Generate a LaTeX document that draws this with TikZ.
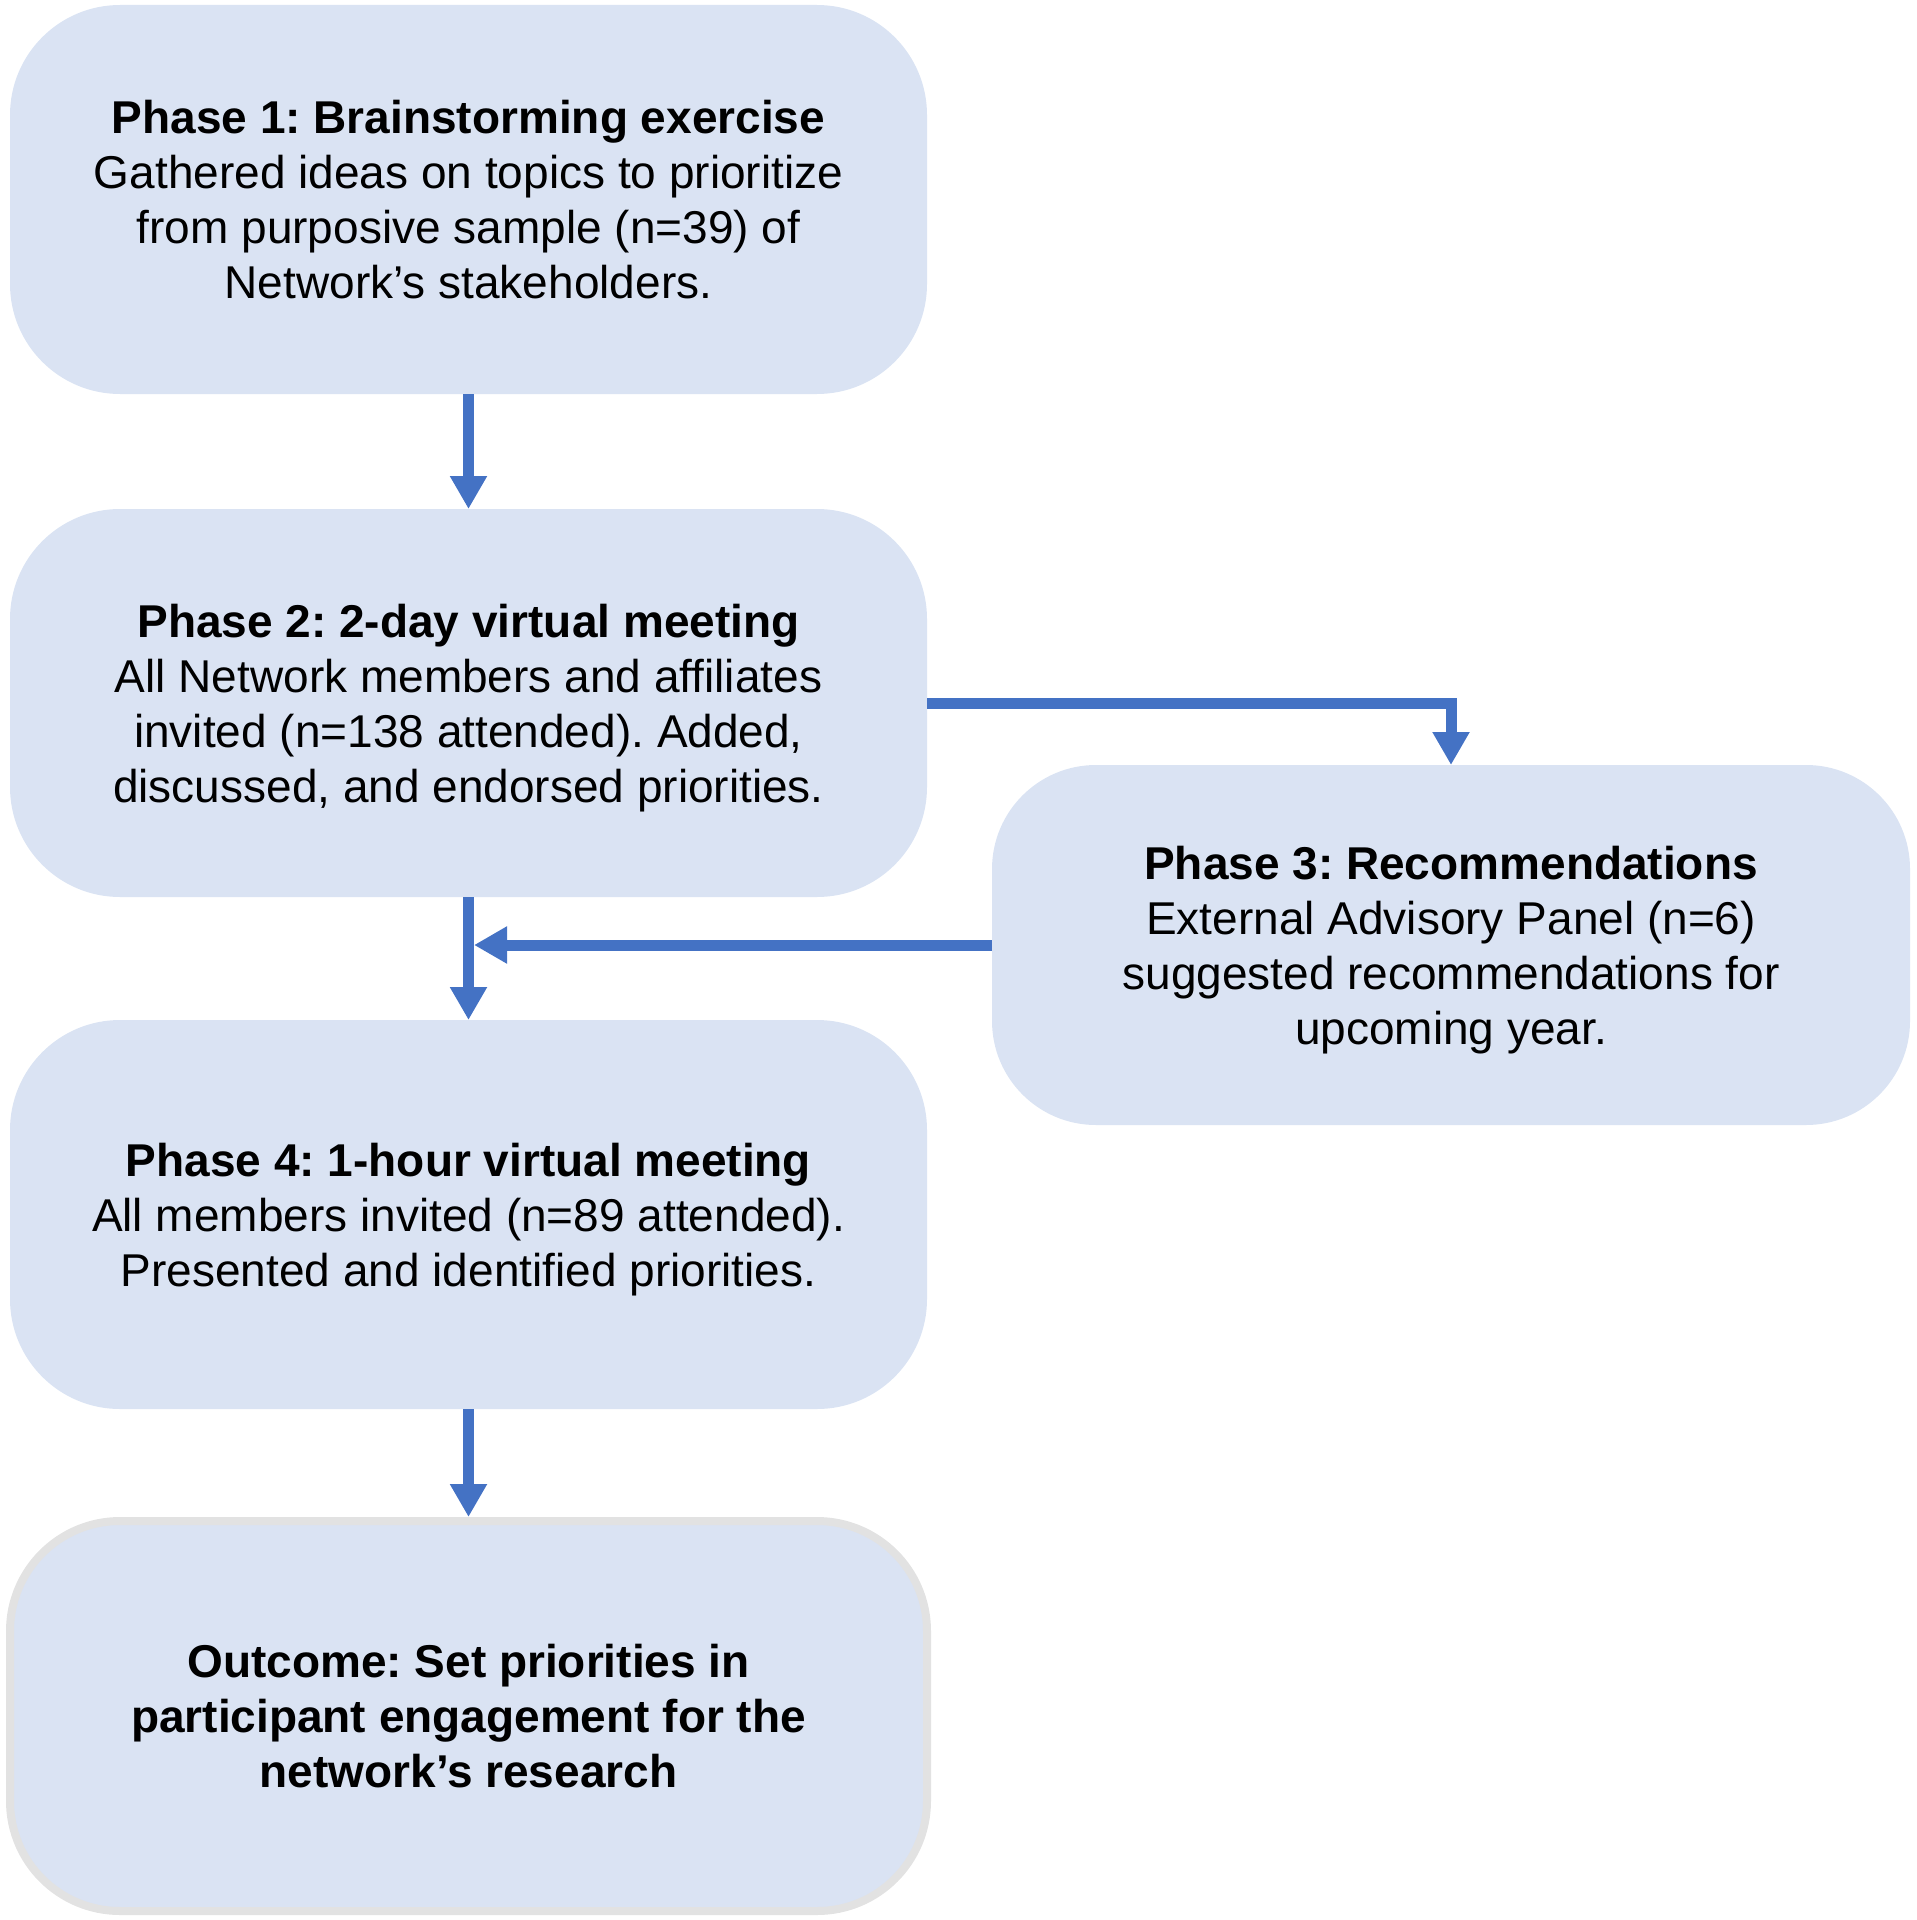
\documentclass[tikz,border=0pt]{standalone}
\usepackage{fontspec}
\setmainfont{Liberation Sans}
\usetikzlibrary{arrows.meta}
\definecolor{boxfill}{HTML}{DAE3F3}
\definecolor{arrowblue}{HTML}{4472C4}
\definecolor{outgray}{HTML}{E2E2E2}
\frenchspacing
\begin{document}
\begin{tikzpicture}[x=0.5pt,y=-0.5pt,
  phasebox/.style={rectangle, rounded corners=55pt, fill=boxfill, inner sep=0pt, outer sep=0pt,
    align=center, font=\fontsize{23}{27.5}\selectfont\frenchspacing},
  flowarrow/.style={draw=arrowblue, line width=5.5pt,
    -{Triangle[width=17.5pt,length=16.5pt]}, color=arrowblue}
]
\useasboundingbox (0,0) rectangle (1916,1920);

\node[phasebox, minimum width=458.5pt, minimum height=194.5pt] (b1) at (468.5,199.5)
  {\textbf{Phase 1: Brainstorming exercise}\\Gathered ideas on topics to prioritize\\from purposive sample (n=39) of\\\smash{Network’s stakeholders.}};

\node[phasebox, minimum width=458.5pt, minimum height=194pt] (b2) at (468.5,703)
  {\textbf{Phase 2: 2-day virtual meeting}\\All Network members and affiliates\\invited (n=138 attended). Added,\\\smash{discussed, and endorsed priorities.}};

\node[phasebox, minimum width=459pt, minimum height=180pt, rounded corners=52pt] (b3) at (1451,945)
  {\textbf{Phase 3: Recommendations}\\External Advisory Panel (n=6)\\suggested recommendations for\\\smash{upcoming year.}};

\node[phasebox, minimum width=458.5pt, minimum height=194.5pt] (b4) at (468.5,1214.5)
  {\textbf{Phase 4: 1-hour virtual meeting}\\All members invited (n=89 attended).\\\smash{Presented and identified priorities.}};

\node[phasebox, draw=outgray, line width=4pt, outer sep=2pt, minimum width=458.5pt, minimum height=195pt] (b5) at (468.5,1716)
  {\textbf{Outcome: Set priorities in}\\\textbf{participant engagement for the}\\\smash{\textbf{network’s research}}};

\coordinate (j) at (474,945);

\draw[flowarrow] (b1.south) -- (b2.north);
\draw[flowarrow] (b2.east) -- (b2.east -| b3.north) -- (b3.north);
\draw[flowarrow] (b3.west) -- (j);
\draw[flowarrow] (b2.south) -- (b4.north);
\draw[flowarrow] (b4.south) -- (b5.north);
\end{tikzpicture}
\end{document}
